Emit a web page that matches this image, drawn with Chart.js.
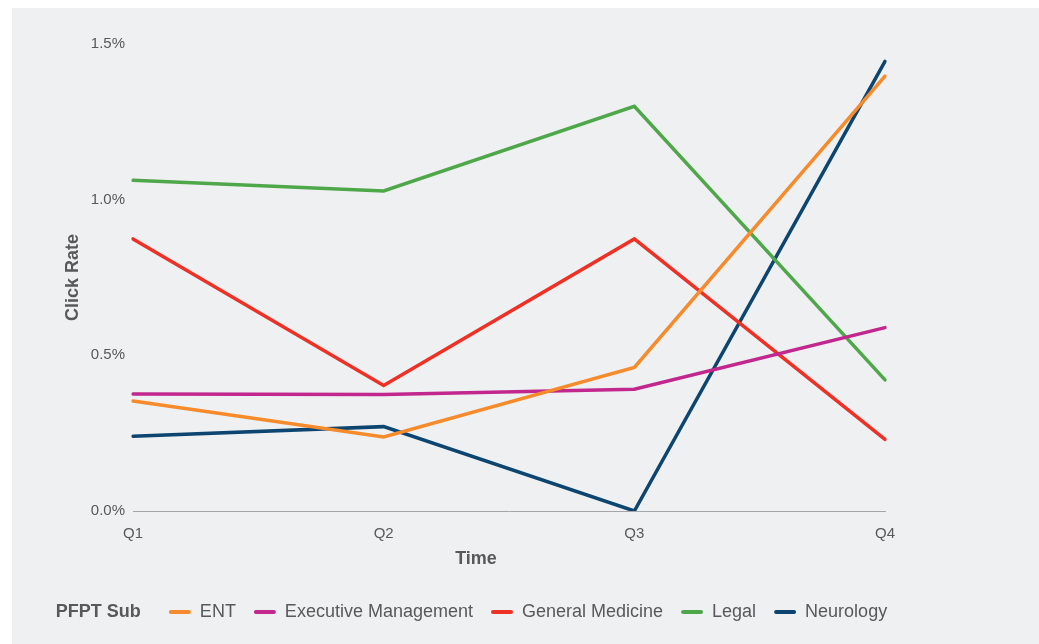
<!DOCTYPE html>
<html>
<head>
<meta charset="utf-8">
<script src="https://cdn.jsdelivr.net/npm/chart.js@4.4.1/dist/chart.umd.min.js"></script>
<style>
  html, body { margin: 0; padding: 0; background: #ffffff; overflow: hidden; }
  #wrap { position: absolute; left: 12px; top: 8px; width: 1027px; height: 636px; background: #eff0f2; }
  canvas { display: block; }
</style>
</head>
<body>
<div id="wrap"><canvas id="c" width="1027" height="636"></canvas></div>
<script>
// ---- data ----
const quarters = ['Q1', 'Q2', 'Q3', 'Q4'];
const ent = [0.353, 0.238, 0.461, 1.397];
const executiveManagement = [0.376, 0.374, 0.391, 0.589];
const generalMedicine = [0.874, 0.403, 0.874, 0.230];
const legal = [1.062, 1.028, 1.300, 0.421];
const neurology = [0.240, 0.271, 0.000, 1.444];
const seriesNames = ['ENT', 'Executive Management', 'General Medicine', 'Legal', 'Neurology'];
const seriesColors = ['#f68b2c', '#c2278e', '#ee3124', '#4ea84a', '#0d4571'];
const yTickValues = [0, 0.5, 1.0, 1.5];

const textColor = '#58595b';
const fontFamily = '"Liberation Sans", Arial, Helvetica, sans-serif';

const seriesValues = [ent, executiveManagement, generalMedicine, legal, neurology];
const datasets = seriesValues.map((vals, i) => ({
  label: seriesNames[i],
  data: vals,
  borderColor: seriesColors[i],
  backgroundColor: seriesColors[i],
  borderWidth: 3.5,
  borderCapStyle: 'round',
  borderJoinStyle: 'miter',
  pointRadius: 0,
  pointHoverRadius: 0,
  tension: 0,
  fill: false
}));

new Chart(document.getElementById('c'), {
  type: 'line',
  data: { labels: quarters, datasets },
  options: {
    responsive: false,
    animation: false,
    devicePixelRatio: 1,
    layout: { padding: { left: 0, right: 99, top: 36, bottom: 13 } },
    scales: {
      x: {
        type: 'category',
        offset: false,
        grid: { display: false, drawTicks: false },
        border: { display: true, color: '#a6a6a6', width: 1 },
        ticks: { color: textColor, font: { family: fontFamily, size: 15 }, padding: 14, maxRotation: 0 },
        afterFit: (s) => { s.height = 31; }
      },
      y: {
        type: 'linear',
        position: 'left',
        min: 0,
        max: 1.5,
        afterBuildTicks: (s) => { s.ticks = yTickValues.map(v => ({ value: v })); },
        grid: { display: false, drawTicks: false },
        border: { display: false },
        ticks: {
          color: textColor,
          font: { family: fontFamily, size: 15 },
          padding: 8,
          callback: (v) => Number(v).toFixed(1) + '%'
        },
        title: {
          display: true,
          text: 'Click Rate',
          color: textColor,
          font: { family: fontFamily, size: 18, weight: 'bold' },
          padding: { top: 50, bottom: 0 }
        },
        afterFit: (s) => { s.width = 121; }
      },
      yRight: {
        type: 'linear',
        position: 'right',
        display: true,
        grid: { display: false, drawTicks: false },
        border: { display: false },
        ticks: { display: false },
        afterFit: (s) => { s.width = 55; }
      }
    },
    plugins: {
      tooltip: { enabled: false },
      title: {
        display: true,
        text: 'Time',
        position: 'bottom',
        weight: 500,
        color: textColor,
        font: { family: fontFamily, size: 18, weight: 'bold' },
        padding: { top: 6, bottom: 15.4 }
      },
      legend: {
        display: true,
        position: 'bottom',
        align: 'center',
        weight: 1000,
        onClick: (e, item, legend) => {
          if (item.datasetIndex < 0) return;
          Chart.defaults.plugins.legend.onClick(e, item, legend);
        },
        title: {
          display: true,
          text: 'PFPT Sub',
          position: 'start',
          color: textColor,
          font: { family: fontFamily, size: 18, weight: 'bold' },
          padding: { top: 18, bottom: -21.6 - 18 }
        },
        labels: {
          color: textColor,
          font: { family: fontFamily, size: 18 },
          boxWidth: 22,
          boxHeight: 4,
          padding: 18,
          generateLabels: (chart) => {
            const items = [{
              text: ' '.repeat(11),
              fillStyle: 'rgba(0,0,0,0)',
              strokeStyle: 'rgba(0,0,0,0)',
              lineWidth: 0,
              hidden: false,
              datasetIndex: -1,
              borderRadius: 0
            }];
            chart.data.datasets.forEach((ds, i) => {
              items.push({
                text: ds.label,
                fillStyle: ds.borderColor,
                strokeStyle: ds.borderColor,
                lineWidth: 0,
                hidden: !chart.isDatasetVisible(i),
                datasetIndex: i,
                borderRadius: 2,
                fontColor: textColor
              });
            });
            return items;
          }
        }
      }
    }
  }
});
</script>
</body>
</html>
